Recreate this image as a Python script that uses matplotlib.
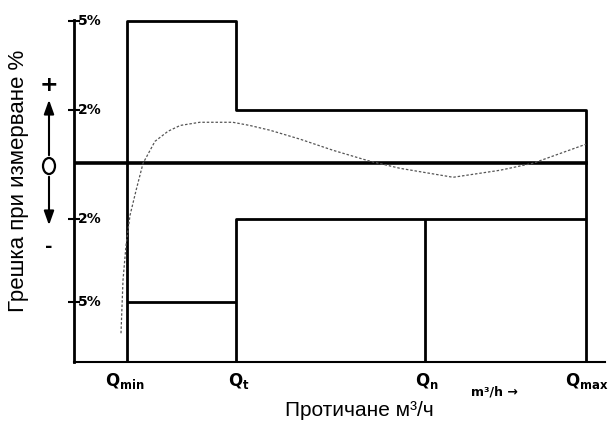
import numpy as np
import matplotlib
matplotlib.use("Agg")
import matplotlib.pyplot as plt
from matplotlib.patches import Ellipse, FancyArrowPatch

# flow positions (fraction of the flow axis)
q_names = ["min", "t", "n", "max"]
q_pos = [0.1, 0.305, 0.661, 0.964]

# error limits, %
err_ticks = [5, 2, -2, -5]
err_labels = ["5%", "2%", "2%", "5%"]

curve_x = [0.0885, 0.0923, 0.098, 0.1055, 0.117, 0.13, 0.1525, 0.177, 0.2, 0.237,
           0.299, 0.331, 0.369, 0.426, 0.488, 0.557, 0.614, 0.714, 0.802, 0.864, 0.964]
curve_y = [-7.6, -4.2, -2.94, -1.86, -0.96, 0.0, 0.83, 1.21, 1.43, 1.55,
           1.55, 1.43, 1.25, 0.91, 0.49, 0.08, -0.18, -0.5, -0.25, 0.0, 0.72]

# the error axis is not linear in the original drawing
lev = [-14, -5, -2, 0, 2, 5, 9]
pix = [-247, -139, -56, 0, 53, 142, 262]
fwd = lambda v: np.interp(v, lev, pix)
inv = lambda p: np.interp(p, pix, lev)

fig = plt.figure(figsize=(6.15, 4.25), dpi=100)
ax = fig.add_axes([74 / 615, 1 - 362 / 425, 531 / 615, 342 / 425])
ax.set_yscale("function", functions=(fwd, inv))
ax.set_xlim(0, 1)
ax.set_ylim(-10, 5.05)

qmin, qt, qn, qmax = q_pos
bottom = -10
k = dict(color="black", lw=2, solid_capstyle="butt")
ax.plot([qmin, qmin, qt, qt, qmax, qmax], [bottom, 5, 5, 2, 2, bottom], **k)
ax.plot([qmin, qt], [-5, -5], **k)
ax.plot([qt, qt, qmax], [bottom, -2, -2], **k)
ax.plot([qn, qn], [bottom, -2], **k)
ax.plot([0, qmax], [0, 0], color="black", lw=2.6)

ax.plot(curve_x, curve_y, color="#555555", lw=0.9, ls=(0, (2, 1.5)))

for s in ["top", "right"]:
    ax.spines[s].set_visible(False)
ax.spines["left"].set_linewidth(2)
ax.spines["bottom"].set_linewidth(1.5)

ax.set_xticks([])
ax.set_yticks(err_ticks)
ax.set_yticklabels([])
ax.tick_params(axis="y", direction="inout", length=8, width=1.5)
ax.yaxis.set_minor_locator(matplotlib.ticker.NullLocator())
for v, lab in zip(err_ticks, err_labels):
    ax.text(0.008, v, lab, transform=ax.get_yaxis_transform(), ha="left",
            va="center", fontsize=10, fontweight="heavy", family="DejaVu Sans")

plt.rcParams["mathtext.fontset"] = "custom"
plt.rcParams["mathtext.bf"] = "DejaVu Sans:bold"
shift = [22, 8, 10, 21]  # px left of the mark
for name, x, s in zip(q_names, q_pos, shift):
    ax.text(x - s / 531, -0.056, r"$\mathbf{Q_{%s}}$" % name,
            transform=ax.get_xaxis_transform(), ha="left", va="center", fontsize=12)
ax.text(0.748, -0.088, "m³/h →", transform=ax.transAxes, ha="left",
        va="center", fontsize=9, fontweight="heavy")

fig.text(359 / 615, 1 - 410 / 425, "Протичане м³/ч", ha="center", va="center",
         fontsize=15, family="Liberation Sans")
fig.text(19 / 615, 1 - 181 / 425, "Грешка при измерване %", ha="center",
         va="center", rotation=90, fontsize=16, family="Liberation Sans")

# +/- sign sketch left of the axis
cx = 49 / 615
fig.add_artist(Ellipse((cx, 1 - 166 / 425), 12 / 615, 16 / 425,
                       transform=fig.transFigure, fill=False, lw=1.6))
arr = dict(arrowstyle="-|>,head_length=0.7,head_width=0.25", lw=1.5, color="black")
fig.add_artist(FancyArrowPatch((cx, 1 - 158 / 425), (cx, 1 - 97 / 425),
               transform=fig.transFigure, mutation_scale=12, **arr))
fig.add_artist(FancyArrowPatch((cx, 1 - 174 / 425), (cx, 1 - 228 / 425),
               transform=fig.transFigure, mutation_scale=12, **arr))
fig.text(cx, 1 - 85 / 425, "+", ha="center", va="center", fontsize=16, fontweight="bold")
fig.text(cx, 1 - 247 / 425, "-", ha="center", va="center", fontsize=13, fontweight="bold")

fig.savefig("out.png", dpi=100)
